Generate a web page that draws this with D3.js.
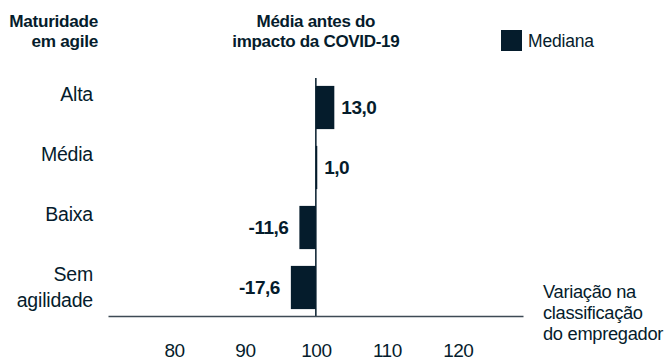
<!DOCTYPE html>
<html>
<head>
<meta charset="utf-8">
<script src="https://cdn.jsdelivr.net/npm/d3@7"></script>
<style>
  body { margin: 0; background: #fff; }
  svg { display: block; font-family: "Liberation Sans", Arial, sans-serif; }
  text { fill: #051c2c; }
</style>
</head>
<body>
<svg id="chart" width="666" height="362"></svg>
<script>
// data
let categories = ['Alta', 'Média', 'Baixa', 'Sem agilidade'];
let categoryLines = [['Alta'], ['Média'], ['Baixa'], ['Sem', 'agilidade']];
let medians = [13.0, 1.0, -11.6, -17.6];
let tickValues = [80, 90, 100, 110, 120];
let legendLabel = 'Mediana';
let leftTitle = ['Maturidade', 'em agile'];
let midTitle = ['Média antes do', 'impacto da COVID-19'];
let axisTitle = ['Variação na', 'classificação', 'do empregador'];

let navy = '#051c2c';
let svg = d3.select('#chart');

let ptBr = d3.formatLocale({decimal: ',', thousands: '.', grouping: [3], currency: ['R$', ''], minus: '-'});
let fmt = ptBr.format('.1f');

let x = d3.scaleLinear().domain([70.7, 129.2]).range([108, 523]);
let bar = d3.scaleLinear().domain([-20, 20]).range([x(100) - 28.4, x(100) + 28.4]);
let y = d3.scaleBand()
  .domain(categories)
  .range([77.5, 317.5])
  .paddingInner(0.28)
  .paddingOuter(0.14);

let rows = categories.map((c, i) => ({name: c, lines: categoryLines[i], value: medians[i]}));

// bars
svg.append('g')
  .selectAll('rect')
  .data(rows)
  .enter()
  .append('rect')
  .attr('x', (d) => Math.min(bar(0), bar(d.value)))
  .attr('y', (d) => y(d.name))
  .attr('width', (d) => Math.max(1.4, Math.abs(bar(d.value) - bar(0))))
  .attr('height', y.bandwidth())
  .attr('fill', navy);

// zero line at 100
svg.append('line')
  .attr('x1', x(100)).attr('x2', x(100))
  .attr('y1', 78).attr('y2', 316)
  .attr('stroke', navy)
  .attr('stroke-width', 1.5);

// bottom axis
let axis = svg.append('g')
  .attr('transform', 'translate(0,316)')
  .call(d3.axisBottom(x).tickValues(tickValues).tickSizeInner(0).tickSizeOuter(0).tickPadding(27.5));
axis.select('.domain').attr('stroke', '#3d4a55').attr('stroke-width', 1.5);
axis.selectAll('text')
  .attr('fill', navy)
  .style('font-size', '19px')
  .style('letter-spacing', '-0.5px')
  .style('font-family', '"Liberation Sans", Arial, sans-serif');

// value labels
svg.append('g')
  .selectAll('text')
  .data(rows)
  .enter()
  .append('text')
  .attr('x', (d) => d.value >= 0 ? bar(d.value) + 7 : bar(d.value) - 11)
  .attr('y', (d) => y(d.name) + y.bandwidth() / 2)
  .attr('dy', '0.36em')
  .attr('text-anchor', (d) => d.value >= 0 ? 'start' : 'end')
  .style('font-size', '19px')
  .style('font-weight', 'bold')
  .style('letter-spacing', '-0.5px')
  .text((d) => fmt(d.value));

// category labels
let cat = svg.append('g')
  .selectAll('text')
  .data(rows)
  .enter()
  .append('text')
  .attr('text-anchor', 'end')
  .style('font-size', '19.5px')
  .style('letter-spacing', '-0.2px');
cat.selectAll('tspan')
  .data((d) => d.lines.map((l, i) => ({l: l, i: i, d: d})))
  .enter()
  .append('tspan')
  .attr('x', 93)
  .attr('y', (t) => y(t.d.name) + y.bandwidth() / 2 - 6.5 + t.i * 25.5)
  .text((t) => t.l);

// titles
let multi = (lines, xPos, y0, lh, anchor, size, weight) => {
  svg.append('text')
    .attr('text-anchor', anchor)
    .style('font-size', size)
    .style('font-weight', weight)
    .style('letter-spacing', '-0.3px')
    .selectAll('tspan')
    .data(lines)
    .enter()
    .append('tspan')
    .attr('x', xPos)
    .attr('y', (l, i) => y0 + i * lh)
    .text((l) => l);
};
multi(leftTitle, 98, 26.5, 20.5, 'end', '17.2px', 'bold');
multi(midTitle, x(100), 26.5, 20.5, 'middle', '17px', 'bold');
multi(axisTitle, 543, 297.5, 21, 'start', '18.3px', 'normal');

// legend
svg.append('rect')
  .attr('x', 501).attr('y', 30)
  .attr('width', 21).attr('height', 21)
  .attr('fill', navy);
svg.append('text')
  .attr('x', 528).attr('y', 47)
  .style('font-size', '17.5px')
  .style('letter-spacing', '-0.2px')
  .text(legendLabel);
</script>
</body>
</html>
